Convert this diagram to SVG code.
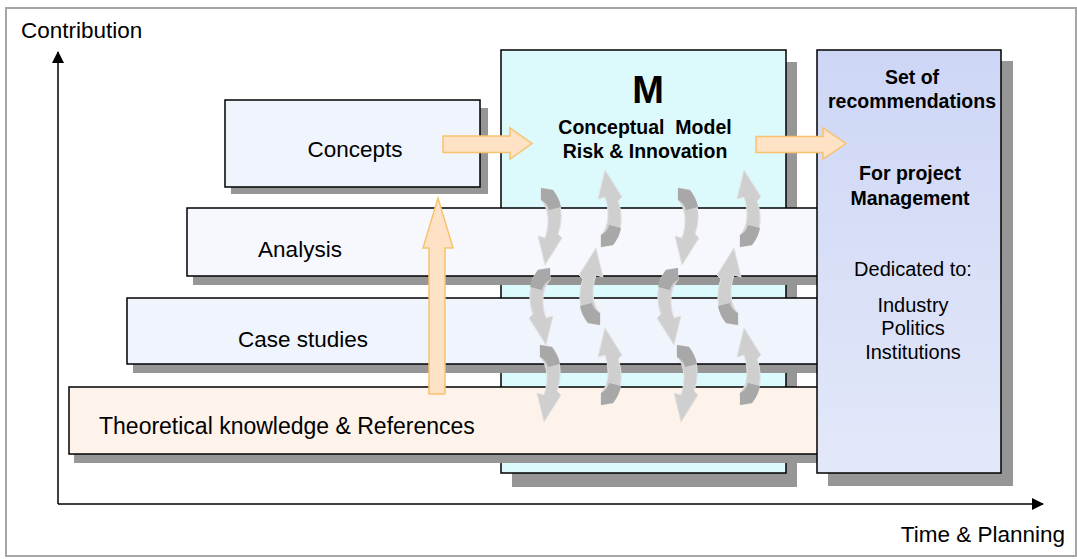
<svg xmlns="http://www.w3.org/2000/svg" xmlns:xlink="http://www.w3.org/1999/xlink" width="1077" height="559" viewBox="0 0 1077 559">
<style>
.t{font-family:"Liberation Sans",Arial,sans-serif;fill:#000}
.n{font-size:22.5px}
.b{font-size:19.5px;font-weight:bold}
.r{font-size:20px}
.box{stroke:#000;stroke-width:1.5}
.sh{fill:#969696}
.oa{fill:#fde2c6;stroke:#f9c26e;stroke-width:1.5}
.ax{stroke:#000;stroke-width:1.5;fill:none}
</style>
<defs>
<linearGradient id="gR" x1="0" y1="0" x2="0" y2="1">
<stop offset="0" stop-color="#cdd6f5"/>
<stop offset="1" stop-color="#e3e8f9"/>
</linearGradient>
<marker id="ah" viewBox="0 0 12 12" refX="11" refY="6" markerWidth="12" markerHeight="12" markerUnits="userSpaceOnUse" orient="auto">
<path d="M0,0 L12,6 L0,12 Z" fill="#000"/>
</marker>
<g id="ca">
<path d="M0,0 L12,2 C20,12 23,30 17,46 L21,50 L4,77 L-3,48 L4,50 C9,36 8,20 0,12 Z" fill="#cfcfcf" stroke="#e2e2e2" stroke-width="1"/>
<path d="M0,0 L12,2 C16,7 19,13 20,19 L8,22 C7,17 4,14 0,12 Z" fill="#a8a8a8"/>
</g>
</defs>
<rect x="6" y="8" width="1070" height="548" fill="#fff" stroke="#a6a6a6" stroke-width="2"/>
<g id="axes">
<line class="ax" x1="58" y1="504" x2="58" y2="52" marker-end="url(#ah)"/>
<line class="ax" x1="58" y1="504" x2="1043" y2="504" marker-end="url(#ah)"/>
<text class="t n" x="21" y="38">Contribution</text>
<text class="t n" x="1065" y="542" text-anchor="end">Time &amp; Planning</text>
</g>
<g id="model">
<rect class="sh" x="512" y="62" width="285" height="425"/>
<rect class="box" x="501" y="50" width="285" height="423" fill="#dcf9fb"/>
<text class="t" x="648" y="103" text-anchor="middle" font-size="38" font-weight="bold">M</text>
<text class="t b" x="645" y="134" text-anchor="middle" xml:space="preserve">Conceptual  Model</text>
<text class="t b" x="645" y="158" text-anchor="middle">Risk &amp; Innovation</text>
</g>
<g id="analysis">
<rect class="sh" x="193" y="216" width="710" height="69"/>
<rect class="box" x="187" y="208" width="710" height="68" fill="#f6f8fe"/>
<text class="t n" x="300" y="257" text-anchor="middle">Analysis</text>
</g>
<g id="casestudies">
<rect class="sh" x="133" y="306" width="770" height="67"/>
<rect class="box" x="127" y="298" width="770" height="66" fill="#eff4fd"/>
<text class="t n" x="303" y="347" text-anchor="middle">Case studies</text>
</g>
<g id="theory">
<rect class="sh" x="74" y="395" width="829" height="68"/>
<rect class="box" x="69" y="387" width="829" height="67" fill="#fdf3ea"/>
<text class="t" x="99" y="434" font-size="23">Theoretical knowledge &amp; References</text>
</g>
<g id="recommendations">
<rect class="sh" x="828" y="61" width="185" height="425"/>
<rect class="box" x="817" y="50" width="184" height="423" fill="url(#gR)"/>
<text class="t b" x="912" y="84" text-anchor="middle">Set of</text>
<text class="t b" x="912" y="108" text-anchor="middle">recommendations</text>
<text class="t b" x="910" y="180" text-anchor="middle">For project</text>
<text class="t b" x="910" y="205" text-anchor="middle">Management</text>
<text class="t r" x="913" y="276" text-anchor="middle">Dedicated to:</text>
<text class="t r" x="913" y="312" text-anchor="middle">Industry</text>
<text class="t r" x="913" y="335" text-anchor="middle">Politics</text>
<text class="t r" x="913" y="359" text-anchor="middle">Institutions</text>
</g>
<g id="concepts">
<rect class="sh" x="231" y="108" width="257" height="86"/>
<rect class="box" x="225" y="100" width="255" height="87" fill="#eff4fd"/>
<text class="t n" x="355" y="157" text-anchor="middle">Concepts</text>
</g>
<g id="connectors">
<path class="oa" d="M443,136 L510,136 L510,128 L532,143.5 L510,159 L510,152.5 L443,152.5 Z"/>
<path class="oa" d="M756,136.5 L823,136.5 L823,128 L846,143.5 L823,159 L823,152.5 L756,152.5 Z"/>
<path class="oa" d="M429,394 L429,248 L423,248 L438,198 L453,248 L445,248 L445,394 Z"/>
<use xlink:href="#ca" transform="translate(541,188)"/>
<use xlink:href="#ca" transform="translate(550,268) scale(-1,1)"/>
<use xlink:href="#ca" transform="translate(540,345)"/>
<use xlink:href="#ca" transform="translate(601,247) scale(1,-1)"/>
<use xlink:href="#ca" transform="translate(600,325) scale(-1,-1)"/>
<use xlink:href="#ca" transform="translate(601,405) scale(1,-1)"/>
<use xlink:href="#ca" transform="translate(678,188)"/>
<use xlink:href="#ca" transform="translate(678,268) scale(-1,1)"/>
<use xlink:href="#ca" transform="translate(677,345)"/>
<use xlink:href="#ca" transform="translate(740,247) scale(1,-1)"/>
<use xlink:href="#ca" transform="translate(738,325) scale(-1,-1)"/>
<use xlink:href="#ca" transform="translate(740,405) scale(1,-1)"/>
</g>
</svg>
